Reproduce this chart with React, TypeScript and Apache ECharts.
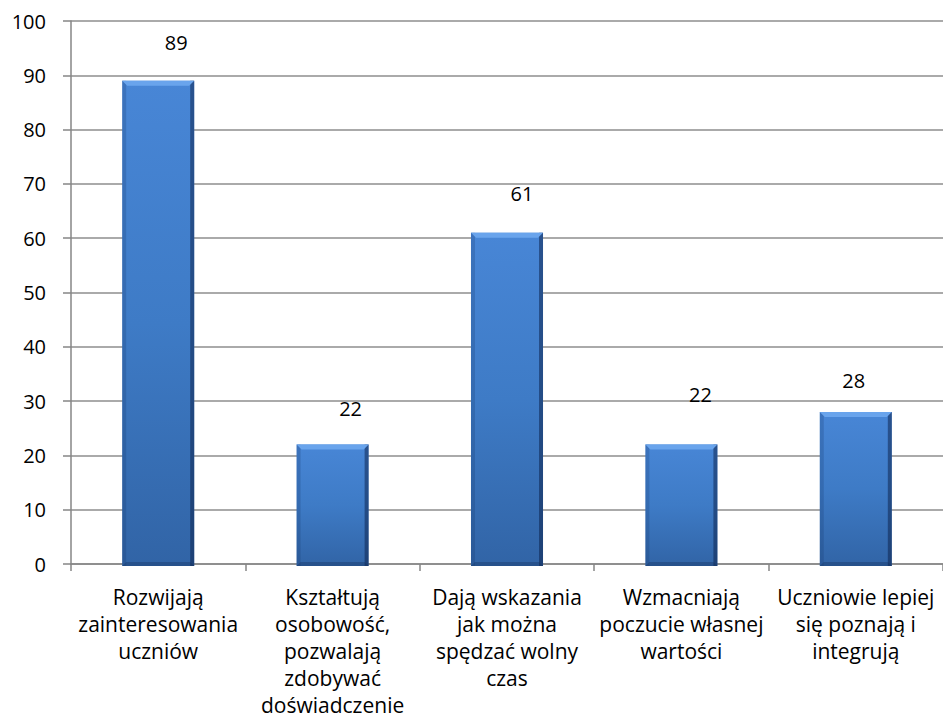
import React, { useEffect, useRef } from "react";
import * as echarts from "echarts";

const categories = [
  "Rozwijają\nzainteresowania\nuczniów",
  "Kształtują\nosobowość,\npozwalają\nzdobywać\ndoświadczenie",
  "Dają wskazania\njak można\nspędzać wolny\nczas",
  "Wzmacniają\npoczucie własnej\nwartości",
  "Uczniowie lepiej\nsię poznają i\nintegrują",
];
const values = [89, 22, 61, 22, 28];
const yTicks = { min: 0, max: 100, interval: 10 };

// hand-placed data label offsets (px) relative to each bar's top centre (styling)
const labelDx = [18, 18, 15, 19, -2];
const labelDy = [-38, -36, -39, -50, -31];

const FONT = "'Open Sans', 'Noto Sans', sans-serif";

export default function App() {
  const ref = useRef<HTMLDivElement>(null);
  useEffect(() => {
    document.body.style.margin = "0";
    const chart = echarts.init(ref.current!, null, { renderer: "svg" });
    const data = values.map((v, i) => [i, v]);
    chart.setOption({
      animation: false,
      backgroundColor: "#ffffff",
      textStyle: { fontFamily: FONT },
      grid: { left: 71, right: 0, top: 21, bottom: 154, containLabel: false },
      xAxis: {
        type: "category",
        data: categories,
        axisLine: { lineStyle: { color: "#868686", width: 1.5 } },
        axisTick: { show: true, length: 7, lineStyle: { color: "#868686", width: 1.5 } },
        axisLabel: {
          color: "#000",
          fontSize: 21,
          lineHeight: 27,
          margin: 19,
          fontFamily: FONT,
          interval: 0,
        },
      },
      yAxis: {
        type: "value",
        min: yTicks.min,
        max: yTicks.max,
        interval: yTicks.interval,
        axisLine: { show: true, lineStyle: { color: "#868686", width: 1.5 } },
        axisTick: { show: true, length: 8, lineStyle: { color: "#868686", width: 1.5 } },
        axisLabel: { color: "#000", fontSize: 20, margin: 25, fontFamily: FONT },
        splitLine: { show: true, lineStyle: { color: "#8e8e8e", width: 1.5 } },
      },
      series: [
        {
          type: "custom",
          data,
          encode: { x: 0, y: 1 },
          z: 3,
          renderItem: (params: any, api: any) => {
            const idx = api.value(0);
            const val = api.value(1);
            const top = api.coord([idx, val]);
            const base = api.coord([idx, 0]);
            const w = api.size([1, 0])[0] * 0.413;
            const x0 = top[0] - w / 2;
            const y0 = top[1];
            const h = base[1] - top[1] + 2;
            const bev = 5;
            const i = params.dataIndex;
            return {
              type: "group",
              children: [
                {
                  type: "rect",
                  shape: { x: x0, y: y0, width: w, height: h },
                  style: {
                    fill: new echarts.graphic.LinearGradient(0, 0, 0, 1, [
                      { offset: 0, color: "#4886d6" },
                      { offset: 0.5, color: "#3e7bc6" },
                      { offset: 1, color: "#3164a6" },
                    ]),
                  },
                },
                {
                  type: "rect",
                  shape: { x: x0, y: y0, width: 4, height: h },
                  style: { fill: "rgba(20,50,100,0.22)" },
                },
                {
                  type: "rect",
                  shape: { x: x0 + w - 4, y: y0, width: 4, height: h },
                  style: { fill: "rgba(10,30,70,0.5)" },
                },
                {
                  type: "polygon",
                  shape: {
                    points: [
                      [x0, y0],
                      [x0 + w, y0],
                      [x0 + w - bev, y0 + bev],
                      [x0 + bev, y0 + bev],
                    ],
                  },
                  style: { fill: "#69a4ec" },
                },
                {
                  type: "polygon",
                  shape: {
                    points: [
                      [x0, y0 + h],
                      [x0 + w, y0 + h],
                      [x0 + w - 4, y0 + h - 4],
                      [x0 + 4, y0 + h - 4],
                    ],
                  },
                  style: { fill: "rgba(20,45,90,0.35)" },
                },
                {
                  type: "text",
                  style: {
                    text: String(val),
                    x: top[0] + labelDx[i],
                    y: y0 + labelDy[i],
                    align: "center",
                    verticalAlign: "middle",
                    fill: "#000",
                    fontSize: 20,
                    fontFamily: FONT,
                  },
                },
              ],
            };
          },
        },
      ],
    });
    return () => chart.dispose();
  }, []);
  return <div ref={ref} style={{ width: 943, height: 718 }} />;
}
